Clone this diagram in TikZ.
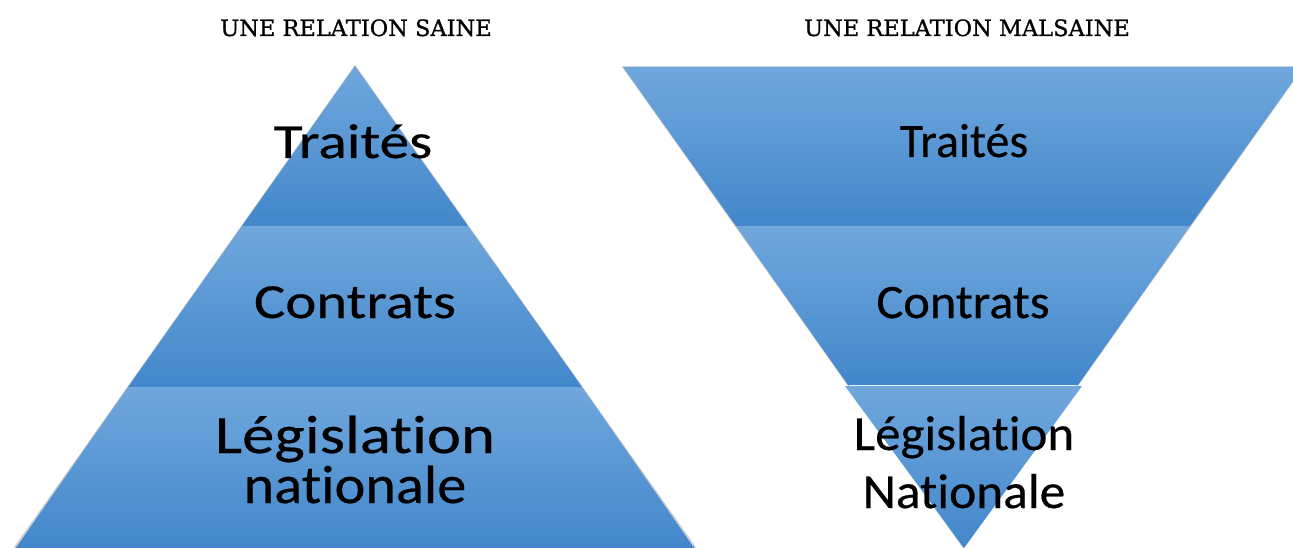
\documentclass[tikz,border=0pt]{standalone}
\usepackage{fontspec}
\setmainfont{Carlito}[Ligatures={NoCommon}, FakeBold=0.4]
\newfontfamily\titlefont{DejaVu Serif}[FakeBold=1]
\usepackage{graphicx}
\definecolor{bandtop}{HTML}{70A7DD}
\definecolor{bandbot}{HTML}{4287CB}
\tikzset{
  band/.style={top color=bandtop, bottom color=bandbot},
  edge/.style={draw=black!45, line width=1.2pt, opacity=0.5},
  title/.style={font=\titlefont\fontsize{22.5}{26}\selectfont, anchor=base, inner sep=0pt},
  lbl/.style={anchor=base, inner sep=0pt, text=black},
}
\begin{document}
\begin{tikzpicture}[x=1pt,y=1pt]
\useasboundingbox (0,0) rectangle (1293,547);
\clip (0,0) rectangle (1293,547);
% ---------- left pyramid ----------
\draw[edge] (355,481) -- (15,0) -- (695,0) -- cycle;
\shade[band] (355,481) -- (242,321) -- (468,321) -- cycle;
\shade[band] (242,321) -- (128,160) -- (582,160) -- (468,321) -- cycle;
\shade[band] (128,160) -- (15,-2) -- (695,-2) -- (582,160) -- cycle;
% ---------- right inverted pyramid ----------
\draw[edge] (623,480) -- (1303,480) -- (963,0) -- cycle;
\shade[band] (623,480) -- (1303,480) -- (1190,321) -- (736,321) -- cycle;
\shade[band] (736,321) -- (1190,321) -- (1078,162) -- (848,162) -- cycle;
\shade[band] (845,161) -- (1082,161) -- (964,-1) -- cycle;
% ---------- titles ----------
\node[title] (t1) at (356,511) {UNE RELATION SAINE};
\node[title] (t2) at (967,511) {UNE RELATION MALSAINE};
% ---------- labels left ----------
\node[lbl, font=\fontsize{49}{55}\selectfont] (l1) at (353,389) {\scalebox{1.21}[1]{Traités}};
\node[lbl, font=\fontsize{49}{55}\selectfont] (l2) at (355,229) {\scalebox{1.2}[1]{Contrats}};
\node[lbl, font=\fontsize{54}{60}\selectfont] (l3) at (355,94) {\scalebox{1.2}[1]{Législation}};
\node[lbl, font=\fontsize{54}{60}\selectfont] (l4) at (355,44) {\scalebox{1.08}[1]{nationale}};
% ---------- labels right ----------
\node[lbl, font=\fontsize{48}{54}\selectfont] (r1) at (964,390) {Traités};
\node[lbl, font=\fontsize{48}{54}\selectfont] (r2) at (963,229) {\scalebox{1.05}[1]{Contrats}};
\node[lbl, font=\fontsize{49}{55}\selectfont] (r3) at (964,97) {\scalebox{1.04}[1]{Législation}};
\node[lbl, font=\fontsize{49}{55}\selectfont] (r4) at (964,39) {\scalebox{1.05}[1]{Nationale}};
\end{tikzpicture}
\end{document}
